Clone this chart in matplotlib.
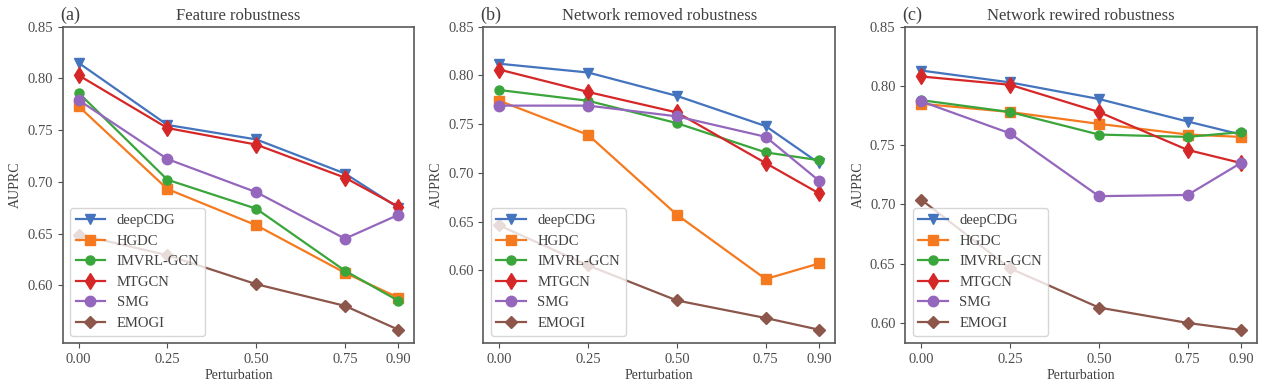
import matplotlib
matplotlib.use("Agg")
import matplotlib.pyplot as plt

# perturbation levels shared by all panels
perturbation = [0.0, 0.25, 0.50, 0.75, 0.90]
xtick_labels = ["0.00", "0.25", "0.50", "0.75", "0.90"]

methods = ["deepCDG", "HGDC", "IMVRL-GCN", "MTGCN", "SMG", "EMOGI"]

# (a) feature robustness
feat_deepcdg = [0.815, 0.755, 0.741, 0.708, 0.675]
feat_hgdc = [0.773, 0.693, 0.658, 0.612, 0.588]
feat_imvrl = [0.786, 0.702, 0.674, 0.614, 0.585]
feat_mtgcn = [0.803, 0.752, 0.736, 0.704, 0.676]
feat_smg = [0.779, 0.722, 0.690, 0.645, 0.668]
feat_emogi = [0.649, 0.629, 0.601, 0.580, 0.557]

# (b) network removed robustness
rem_deepcdg = [0.812, 0.803, 0.779, 0.748, 0.710]
rem_hgdc = [0.774, 0.739, 0.657, 0.591, 0.607]
rem_imvrl = [0.785, 0.774, 0.751, 0.721, 0.713]
rem_mtgcn = [0.806, 0.783, 0.762, 0.710, 0.679]
rem_smg = [0.769, 0.769, 0.758, 0.737, 0.692]
rem_emogi = [0.646, 0.605, 0.569, 0.551, 0.539]

# (c) network rewired robustness
rew_deepcdg = [0.813, 0.803, 0.789, 0.770, 0.759]
rew_hgdc = [0.785, 0.778, 0.768, 0.759, 0.757]
rew_imvrl = [0.788, 0.778, 0.759, 0.757, 0.761]
rew_mtgcn = [0.808, 0.801, 0.778, 0.746, 0.735]
rew_smg = [0.787, 0.760, 0.707, 0.708, 0.735]
rew_emogi = [0.704, 0.646, 0.613, 0.600, 0.594]

panels = [
    ("(a)", "Feature robustness",
     [feat_deepcdg, feat_hgdc, feat_imvrl, feat_mtgcn, feat_smg, feat_emogi]),
    ("(b)", "Network removed robustness",
     [rem_deepcdg, rem_hgdc, rem_imvrl, rem_mtgcn, rem_smg, rem_emogi]),
    ("(c)", "Network rewired robustness",
     [rew_deepcdg, rew_hgdc, rew_imvrl, rew_mtgcn, rew_smg, rew_emogi]),
]

colors = ["#4474bd", "#f57a1f", "#3aa53a", "#d62728", "#9467bd", "#8c564b"]
markers = ["v", "s", "o", "d", "o", "D"]
msizes = [7.5, 7, 6.5, 8, 7.5, 6.5]

plt.rcParams["font.family"] = ["Liberation Serif", "DejaVu Serif"]
plt.rcParams["text.color"] = "0.25"
plt.rcParams["axes.labelcolor"] = "0.25"
plt.rcParams["xtick.color"] = "0.3"
plt.rcParams["ytick.color"] = "0.3"
plt.rcParams["axes.edgecolor"] = "0.35"
plt.rcParams["axes.linewidth"] = 1.2

fig = plt.figure(figsize=(12.66, 3.9), dpi=100)
lefts = [0.0495, 0.3818, 0.7151]
for left, (tag, title, series) in zip(lefts, panels):
    ax = fig.add_axes([left, 0.1205, 0.2777, 0.811])
    for name, vals, c, m, ms in zip(methods, series, colors, markers, msizes):
        ax.plot(perturbation, vals, color=c, marker=m, markersize=ms,
                linewidth=1.6, label=name)
    ax.set_ylim(top=0.85)
    ax.set_yticks([0.60, 0.65, 0.70, 0.75, 0.80, 0.85])
    ax.set_yticklabels(["0.60", "0.65", "0.70", "0.75", "0.80", "0.85"])
    ax.set_xticks(perturbation)
    ax.set_xticklabels(xtick_labels)
    ax.tick_params(labelsize=10.5)
    ax.set_title(title, fontsize=12, pad=5)
    ax.set_title(tag, loc="left", fontsize=13, pad=5, x=-0.008)
    ax.set_xlabel("Perturbation", fontsize=10, labelpad=2)
    ax.set_ylabel("AUPRC", fontsize=10)
    ax.legend(loc="lower left", fontsize=10.5, labelspacing=0.5)

fig.savefig("out.png", dpi=100)
